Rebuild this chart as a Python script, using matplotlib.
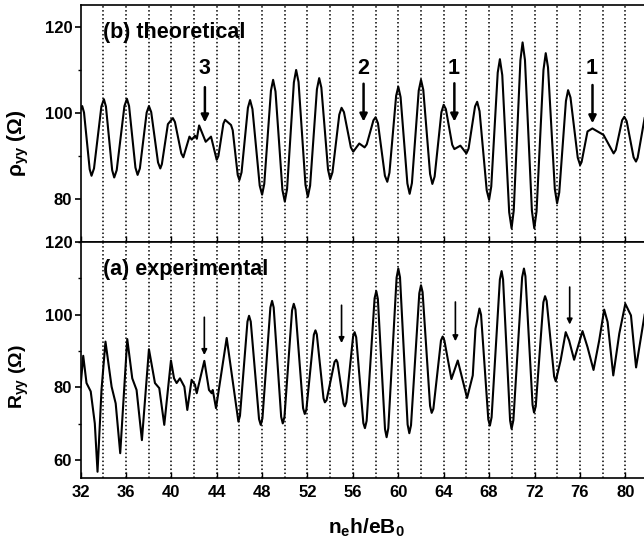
import matplotlib
matplotlib.use("Agg")
import matplotlib.pyplot as plt
from matplotlib.ticker import MultipleLocator

plt.rcParams['font.family'] = ['Liberation Sans', 'DejaVu Sans']
plt.rcParams['font.weight'] = 'bold'
plt.rcParams['mathtext.fontset'] = 'custom'
plt.rcParams['mathtext.rm'] = 'Liberation Sans:bold'
plt.rcParams['mathtext.bf'] = 'Liberation Sans:bold'
plt.rcParams['mathtext.it'] = 'Liberation Sans:bold'

# (b) theoretical rho_yy
theo_x = [32.00, 32.15, 32.31, 32.81, 32.97, 33.19, 33.84, 34.06, 34.24, 34.79,
          34.97, 35.19, 35.87, 36.09, 36.28, 36.84, 37.03, 37.23, 37.83, 38.03,
          38.23, 38.83, 39.03, 39.17, 39.70, 40.14, 40.32, 40.88, 41.06, 41.60,
          41.80, 42.10, 42.25, 42.45, 43.03, 43.50, 44.00, 44.15, 44.59, 44.74,
          45.26, 45.41, 45.85, 46.00, 46.19, 46.75, 46.94, 47.15, 47.79, 48.00,
          48.19, 48.78, 48.97, 49.18, 49.79, 50.00, 50.20, 50.80, 51.00, 51.21,
          51.82, 52.03, 52.23, 52.83, 53.03, 53.22, 53.81, 54.00, 54.20, 54.80,
          55.00, 55.21, 55.82, 56.03, 56.56, 57.03, 57.22, 57.81, 58.00, 58.21,
          58.82, 59.03, 59.22, 59.81, 60.00, 60.20, 60.80, 61.00, 61.20, 61.80,
          62.00, 62.20, 62.80, 63.00, 63.20, 63.80, 64.00, 64.19, 64.75, 64.94,
          65.47, 66.00, 66.19, 66.76, 66.95, 67.16, 67.79, 68.00, 68.19, 68.76,
          68.95, 69.16, 69.77, 69.98, 70.17, 70.76, 70.95, 71.16, 71.77, 71.98,
          72.18, 72.79, 72.99, 73.19, 73.79, 73.99, 74.18, 74.77, 74.96, 75.17,
          75.81, 76.02, 76.15, 76.67, 77.10, 78.08, 78.97, 79.16, 79.72, 79.91,
          80.12, 80.73, 80.94, 81.09, 81.70]
theo_y = [100.8, 101.6, 100.1, 86.9, 85.4, 87.1, 101.5, 103.2, 101.5, 86.7,
          85.0, 86.7, 101.6, 103.3, 101.6, 87.3, 85.6, 87.1, 100.1, 101.6,
          100.2, 88.5, 87.1, 88.1, 97.4, 98.8, 97.9, 90.6, 89.7, 94.5,
          93.8, 94.7, 94.0, 97.1, 93.3, 94.5, 89.1, 90.0, 97.5, 98.4,
          97.2, 96.0, 85.6, 84.4, 86.2, 101.2, 103.0, 100.9, 83.1, 81.0,
          83.5, 105.2, 107.7, 105.0, 82.1, 79.4, 82.3, 107.1, 110.0, 107.2,
          83.3, 80.5, 83.1, 105.5, 108.1, 105.9, 86.8, 84.6, 86.2, 99.6,
          101.2, 100.2, 92.0, 91.0, 92.9, 92.0, 92.7, 98.3, 99.0, 97.6,
          85.4, 84.0, 86.1, 104.0, 106.1, 103.7, 83.6, 81.2, 83.7, 105.2,
          107.7, 105.4, 85.8, 83.5, 85.2, 100.2, 101.9, 100.9, 92.6, 91.6,
          92.4, 90.6, 91.7, 101.5, 102.6, 100.4, 82.0, 79.8, 82.9, 109.4,
          112.5, 108.8, 76.9, 73.2, 77.3, 112.3, 116.4, 112.3, 77.3, 73.2,
          77.1, 110.0, 113.9, 110.6, 82.3, 79.0, 81.5, 102.8, 105.3, 103.6,
          89.6, 87.9, 88.6, 95.7, 96.4, 94.9, 90.6, 91.4, 98.3, 99.1,
          98.1, 89.7, 88.7, 89.6, 98.8]

# (a) experimental R_yy
exp_x = [32.00, 32.24, 32.53, 32.90, 33.26, 33.50, 33.85, 34.20, 34.74, 35.10,
         35.50, 36.12, 36.56, 36.94, 37.41, 38.03, 38.56, 38.94, 39.38, 39.97,
         40.24, 40.47, 40.76, 41.15, 41.41, 41.79, 42.09, 42.24, 42.91, 43.32,
         43.56, 43.65, 43.94, 44.88, 45.38, 45.91, 46.05, 46.71, 46.85, 47.00,
         47.73, 47.88, 48.03, 48.73, 48.88, 49.02, 49.68, 49.82, 49.97, 50.64,
         50.79, 50.94, 51.61, 51.76, 51.90, 52.56, 52.70, 52.82, 53.41, 53.53,
         53.68, 54.38, 54.53, 54.64, 55.18, 55.29, 55.42, 56.02, 56.15, 56.29,
         56.92, 57.06, 57.21, 57.91, 58.06, 58.20, 58.83, 58.97, 59.12, 59.85,
         60.00, 60.15, 60.82, 60.97, 61.12, 61.85, 62.00, 62.14, 62.80, 62.94,
         63.09, 63.76, 63.91, 64.06, 64.68, 65.24, 66.06, 66.56, 66.80, 67.15,
         67.29, 67.93, 68.07, 68.22, 68.95, 69.10, 69.23, 69.85, 69.98, 70.14,
         70.91, 71.07, 71.20, 71.83, 71.96, 72.11, 72.78, 72.93, 73.07, 73.73,
         73.87, 74.30, 74.75, 75.05, 75.49, 76.23, 76.67, 77.20, 77.70, 78.14,
         78.44, 78.94, 79.47, 80.00, 80.50, 80.74, 80.95, 81.70]
exp_y = [80.0, 88.7, 81.2, 78.9, 70.1, 56.8, 79.3, 92.6, 80.2, 75.6,
         61.9, 93.3, 82.5, 79.3, 65.5, 90.5, 81.2, 79.8, 69.7, 87.4,
         82.5, 81.2, 82.5, 80.2, 73.8, 82.1, 80.7, 78.4, 87.3, 79.3,
         78.4, 79.3, 74.3, 93.6, 82.5, 70.6, 72.2, 98.1, 99.7, 98.1,
         71.3, 69.7, 71.5, 102.0, 103.8, 102.0, 71.9, 70.1, 71.9, 101.2,
         103.0, 101.4, 74.3, 72.7, 73.9, 94.5, 95.7, 94.6, 77.0, 75.9,
         76.5, 87.0, 87.6, 86.9, 75.5, 74.8, 75.9, 94.1, 95.2, 93.8,
         70.2, 68.8, 70.8, 104.5, 106.5, 104.3, 68.5, 66.3, 68.8, 110.2,
         112.7, 110.3, 69.8, 67.4, 69.6, 105.9, 108.1, 106.2, 74.9, 73.0,
         74.1, 92.9, 94.0, 92.9, 82.3, 87.4, 77.1, 83.3, 96.1, 101.7,
         100.0, 71.2, 69.5, 71.8, 109.7, 112.0, 109.7, 70.9, 68.6, 71.0,
         110.3, 112.7, 110.6, 75.2, 73.1, 74.8, 103.4, 105.1, 103.8, 83.0,
         81.7, 87.4, 95.2, 92.9, 87.6, 95.5, 91.1, 84.8, 92.9, 101.4,
         98.0, 83.3, 94.8, 103.0, 99.8, 92.0, 85.5, 100.0]

grid_x = list(range(34, 84, 2))

# arrows: (x, y_start, y_end, label)
theo_marks = [(42.96, 106.0, 97.8, '3'), (56.94, 106.8, 98.0, '2'),
              (64.94, 106.9, 98.0, '1'), (77.11, 106.5, 97.6, '1')]
exp_marks = [(42.91, 99.3, 88.9), (55.0, 102.6, 92.2),
             (65.03, 103.5, 92.7), (75.1, 107.6, 97.3)]

fig = plt.figure(figsize=(6.44, 5.46), dpi=100)
W, H = 644.0, 546.0
left = 80.5 / W
width = 51 * 11.35 / W
ax_t = fig.add_axes([left, 1 - 242 / H, width, 237 / H])
ax_b = fig.add_axes([left, 1 - 478.3 / H, width, 236.3 / H])

for ax in (ax_t, ax_b):
    ax.set_xlim(32, 83)
    for g in grid_x:
        ax.axvline(g, color='k', lw=1.1, linestyle=(0, (1, 1.6)), zorder=1)
    ax.xaxis.set_major_locator(MultipleLocator(4))
    ax.tick_params(axis='y', which='major', direction='out', length=4, width=1.2,
                   pad=2, labelsize=12)
    ax.tick_params(axis='y', which='minor', direction='out', length=2.5, width=1.0)
    ax.tick_params(axis='x', which='major', direction='in', length=4, width=1.0,
                   pad=5, labelsize=12)
    ax.yaxis.set_minor_locator(MultipleLocator(10))
    for s in ax.spines.values():
        s.set_linewidth(1.2)

ax_t.plot(theo_x, theo_y, color='k', lw=1.5, solid_joinstyle='round', zorder=3)
ax_t.set_ylim(70, 125.1)
ax_t.set_yticks([80, 100, 120])
ax_t.tick_params(axis='x', labelbottom=False)
ax_t.text(34.0, 118.6, '(b) theoretical', fontsize=15.5, fontweight='bold',
          ha='left', va='center')
for x, y0, y1, lab in theo_marks:
    ax_t.annotate('', xy=(x, y1), xytext=(x, y0),
                  arrowprops=dict(arrowstyle='-|>', lw=1.8, color='k',
                                  mutation_scale=11, shrinkA=0, shrinkB=0))
    ax_t.text(x - 0.05, 110.4, lab, fontsize=15.5, fontweight='bold',
              ha='center', va='center')

ax_b.plot(exp_x, exp_y, color='k', lw=1.5, solid_joinstyle='round', zorder=3)
ax_b.set_ylim(55, 120)
ax_b.set_yticks([60, 80, 100, 120])
ax_b.text(34.0, 112.5, '(a) experimental', fontsize=15.5, fontweight='bold',
          ha='left', va='center')
for x, y0, y1 in exp_marks:
    ax_b.annotate('', xy=(x, y1), xytext=(x, y0),
                  arrowprops=dict(arrowstyle='-|>', lw=1.2, color='k',
                                  mutation_scale=8, shrinkA=0, shrinkB=0))
for lab in ax_b.get_xticklabels() + ax_b.get_yticklabels() + ax_t.get_yticklabels():
    lab.set_fontweight('bold')

fig.text(18 / W, 1 - 143.5 / H, r'$\mathbf{\rho_{yy}}$ (Ω)', rotation=90,
         fontsize=15, fontweight='bold', ha='center', va='center')
fig.text(19 / W, 1 - 377 / H, r'$\mathbf{R_{yy}}$ (Ω)', rotation=90,
         fontsize=14, fontweight='bold', ha='center', va='center')
fig.text(366 / W, 1 - 528 / H, r'$\mathbf{n_e h/eB_0}$', fontsize=15,
         ha='center', va='center')

fig.savefig('out.png', dpi=100)
